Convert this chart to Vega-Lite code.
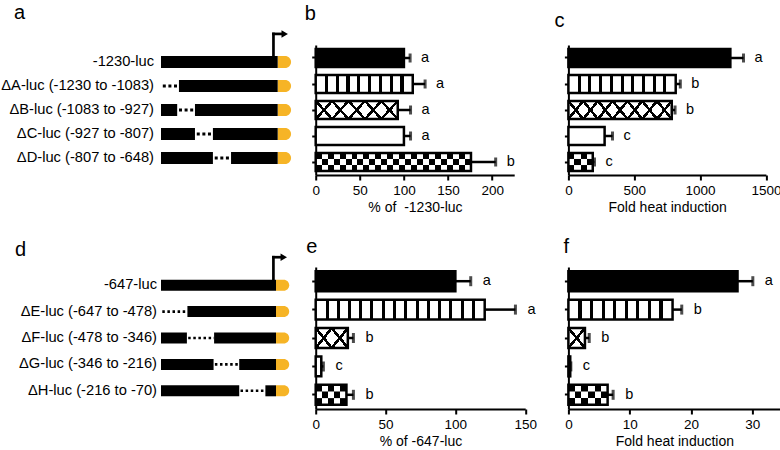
{
"$schema":"https://vega.github.io/schema/vega-lite/v6.json",
"padding":{"left":1,"top":3,"right":0,"bottom":0},
"background":"white",
"datasets":{
"bars":[
{"panel":"b","row":1,"construct":"-1230-luc","pattern":"solid","value":100,"upper":107,"letter":"a"},
{"panel":"b","row":2,"construct":"ΔA-luc","pattern":"stripes","value":110,"upper":124,"letter":"a"},
{"panel":"b","row":3,"construct":"ΔB-luc","pattern":"diamond","value":93,"upper":107.5,"letter":"a"},
{"panel":"b","row":4,"construct":"ΔC-luc","pattern":"white","value":100,"upper":107.5,"letter":"a"},
{"panel":"b","row":5,"construct":"ΔD-luc","pattern":"checker","value":176,"upper":204,"letter":"b"},
{"panel":"c","row":1,"construct":"-1230-luc","pattern":"solid","value":1230,"upper":1330,"letter":"a"},
{"panel":"c","row":2,"construct":"ΔA-luc","pattern":"stripes","value":815,"upper":850,"letter":"b"},
{"panel":"c","row":3,"construct":"ΔB-luc","pattern":"diamond","value":785,"upper":810,"letter":"b"},
{"panel":"c","row":4,"construct":"ΔC-luc","pattern":"white","value":275,"upper":335,"letter":"c"},
{"panel":"c","row":5,"construct":"ΔD-luc","pattern":"checker","value":185,"upper":198,"letter":"c"},
{"panel":"e","row":1,"construct":"-647-luc","pattern":"solid","value":100,"upper":111,"letter":"a"},
{"panel":"e","row":2,"construct":"ΔE-luc","pattern":"stripes","value":121,"upper":143,"letter":"a"},
{"panel":"e","row":3,"construct":"ΔF-luc","pattern":"diamond","value":23,"upper":27,"letter":"b"},
{"panel":"e","row":4,"construct":"ΔG-luc","pattern":"white","value":4,"upper":5.5,"letter":"c"},
{"panel":"e","row":5,"construct":"ΔH-luc","pattern":"checker","value":22,"upper":27,"letter":"b"},
{"panel":"f","row":1,"construct":"-647-luc","pattern":"solid","value":27.6,"upper":30.1,"letter":"a"},
{"panel":"f","row":2,"construct":"ΔE-luc","pattern":"stripes","value":17,"upper":18.5,"letter":"b"},
{"panel":"f","row":3,"construct":"ΔF-luc","pattern":"diamond","value":2.7,"upper":3.4,"letter":"b"},
{"panel":"f","row":4,"construct":"ΔG-luc","pattern":"white","value":0.3,"upper":0.4,"letter":"c"},
{"panel":"f","row":5,"construct":"ΔH-luc","pattern":"checker","value":6.4,"upper":7.3,"letter":"b"}
],
"schem":[
{"panel":"a","row":1,"label":"-1230-luc","kind":"solid","start":0,"end":6.63},
{"panel":"a","row":1,"label":"-1230-luc","kind":"luc","start":6.63,"end":7.39},
{"panel":"a","row":2,"label":"ΔA-luc (-1230 to -1083)","kind":"gap","start":0,"end":1.02},
{"panel":"a","row":2,"label":"ΔA-luc (-1230 to -1083)","kind":"solid","start":1.02,"end":6.63},
{"panel":"a","row":2,"label":"ΔA-luc (-1230 to -1083)","kind":"luc","start":6.63,"end":7.39},
{"panel":"a","row":3,"label":"ΔB-luc (-1083 to -927)","kind":"solid","start":0,"end":0.92},
{"panel":"a","row":3,"label":"ΔB-luc (-1083 to -927)","kind":"gap","start":0.92,"end":1.93},
{"panel":"a","row":3,"label":"ΔB-luc (-1083 to -927)","kind":"solid","start":1.93,"end":6.63},
{"panel":"a","row":3,"label":"ΔB-luc (-1083 to -927)","kind":"luc","start":6.63,"end":7.39},
{"panel":"a","row":4,"label":"ΔC-luc (-927 to -807)","kind":"solid","start":0,"end":1.93},
{"panel":"a","row":4,"label":"ΔC-luc (-927 to -807)","kind":"gap","start":1.93,"end":2.95},
{"panel":"a","row":4,"label":"ΔC-luc (-927 to -807)","kind":"solid","start":2.95,"end":6.63},
{"panel":"a","row":4,"label":"ΔC-luc (-927 to -807)","kind":"luc","start":6.63,"end":7.39},
{"panel":"a","row":5,"label":"ΔD-luc (-807 to -648)","kind":"solid","start":0,"end":2.95},
{"panel":"a","row":5,"label":"ΔD-luc (-807 to -648)","kind":"gap","start":2.95,"end":3.98},
{"panel":"a","row":5,"label":"ΔD-luc (-807 to -648)","kind":"solid","start":3.98,"end":6.63},
{"panel":"a","row":5,"label":"ΔD-luc (-807 to -648)","kind":"luc","start":6.63,"end":7.39},
{"panel":"d","row":1,"label":"-647-luc","kind":"solid","start":0,"end":4.44},
{"panel":"d","row":1,"label":"-647-luc","kind":"luc","start":4.44,"end":4.95},
{"panel":"d","row":2,"label":"ΔE-luc (-647 to -478)","kind":"gap","start":0,"end":1.02},
{"panel":"d","row":2,"label":"ΔE-luc (-647 to -478)","kind":"solid","start":1.02,"end":4.44},
{"panel":"d","row":2,"label":"ΔE-luc (-647 to -478)","kind":"luc","start":4.44,"end":4.95},
{"panel":"d","row":3,"label":"ΔF-luc (-478 to -346)","kind":"solid","start":0,"end":1.0},
{"panel":"d","row":3,"label":"ΔF-luc (-478 to -346)","kind":"gap","start":1.0,"end":2.05},
{"panel":"d","row":3,"label":"ΔF-luc (-478 to -346)","kind":"solid","start":2.05,"end":4.44},
{"panel":"d","row":3,"label":"ΔF-luc (-478 to -346)","kind":"luc","start":4.44,"end":4.95},
{"panel":"d","row":4,"label":"ΔG-luc (-346 to -216)","kind":"solid","start":0,"end":2.03},
{"panel":"d","row":4,"label":"ΔG-luc (-346 to -216)","kind":"gap","start":2.03,"end":3.02},
{"panel":"d","row":4,"label":"ΔG-luc (-346 to -216)","kind":"solid","start":3.02,"end":4.44},
{"panel":"d","row":4,"label":"ΔG-luc (-346 to -216)","kind":"luc","start":4.44,"end":4.95},
{"panel":"d","row":5,"label":"ΔH-luc (-216 to -70)","kind":"solid","start":0,"end":3.02},
{"panel":"d","row":5,"label":"ΔH-luc (-216 to -70)","kind":"gap","start":3.02,"end":4.03},
{"panel":"d","row":5,"label":"ΔH-luc (-216 to -70)","kind":"solid","start":4.03,"end":4.44},
{"panel":"d","row":5,"label":"ΔH-luc (-216 to -70)","kind":"luc","start":4.44,"end":4.95}
],
"tss":[
{"panel":"a","row":1,"x":6.39,"top":-0.17,"xend":6.9,"xhead":7.03},
{"panel":"d","row":1,"x":4.34,"top":-0.06,"xend":4.66,"xhead":4.74}
]
},
"concat":[
{
"width":112,"height":130,
"title":{"text":"a","dx":-147,"offset":7},
"layer":[
{"data":{"name":"schem"},"transform":[{"filter":"datum.panel==='a' && datum.kind==='gap'"}],
 "mark":{"type":"rule","color":"black","strokeWidth":3,"strokeDash":[3,2.6],"strokeDashOffset":-1.8},
 "encoding":{"x":{"field":"start","type":"quantitative","scale":{"domain":[0,6.364],"nice":false,"zero":false},"axis":null},"x2":{"field":"end"},"y":{"field":"row","type":"quantitative","scale":{"domain":[0.5,5.5],"reverse":true,"nice":false,"zero":false},"axis":null}}},
{"data":{"name":"schem"},"transform":[{"filter":"datum.panel==='a' && datum.kind==='luc'"}],
 "mark":{"type":"bar","orient":"horizontal","height":12,"color":"#F6B426","cornerRadiusTopRight":6,"cornerRadiusBottomRight":6},
 "encoding":{"x":{"field":"start","type":"quantitative","axis":null},"x2":{"field":"end"},"y":{"field":"row","type":"quantitative","axis":null}}},
{"data":{"name":"schem"},"transform":[{"filter":"datum.panel==='a' && datum.kind==='solid'"}],
 "mark":{"type":"bar","orient":"horizontal","height":12,"color":"black"},
 "encoding":{"x":{"field":"start","type":"quantitative","axis":null},"x2":{"field":"end"},"y":{"field":"row","type":"quantitative","axis":null}}},
{"data":{"name":"tss"},"transform":[{"filter":"datum.panel==='a'"}],
 "mark":{"type":"rule","color":"black","strokeWidth":2.7,"strokeCap":"square"},
 "encoding":{"x":{"field":"x","type":"quantitative","axis":null},"y":{"field":"row","type":"quantitative","axis":null},"y2":{"field":"top"}}},
{"data":{"name":"tss"},"transform":[{"filter":"datum.panel==='a'"}],
 "mark":{"type":"rule","color":"black","strokeWidth":2.7,"strokeCap":"square"},
 "encoding":{"x":{"field":"x","type":"quantitative","axis":null},"x2":{"field":"xend"},"y":{"field":"top","type":"quantitative","axis":null}}},
{"data":{"name":"tss"},"transform":[{"filter":"datum.panel==='a'"}],
 "mark":{"type":"point","shape":"triangle-right","filled":true,"size":55,"color":"black","opacity":1},
 "encoding":{"x":{"field":"xhead","type":"quantitative","axis":null},"y":{"field":"top","type":"quantitative","axis":null}}},
{"data":{"name":"schem"},"transform":[{"filter":"datum.panel==='a' && datum.start===0"}],
 "mark":{"type":"text","align":"right","baseline":"middle","dx":-7,"fontSize":14.7},
 "encoding":{"x":{"field":"start","type":"quantitative","axis":null},"y":{"field":"row","type":"quantitative","axis":null},"text":{"field":"label"}}}
]
},
{
"width":198.5,"height":130,
"title":{"text":"b","dx":-11,"offset":20.7},
"data":{"name":"bars"},
"transform":[{"filter":"datum.panel==='b'"}],
"encoding":{"y":{"field":"row","type":"ordinal","scale":{"paddingInner":0.3,"paddingOuter":0.15},"axis":{"labels":false,"title":null}}},
"layer":[
{"mark":{"type":"bar"},"encoding":{"x":{"field":"value","type":"quantitative","title":"% of \u00a0-1230-luc","scale":{"domain":[0,225],"nice":false},"axis":{"values":[0,50,100,150,200],"format":"d"}},"fill":{"field":"pattern","type":"nominal","scale":{"domain":["solid","stripes","diamond","white","checker"],"range":["black","white","white","white","white"]},"legend":null}}},
{"transform":[{"filter":"datum.pattern==='stripes'"}],"mark":{"type":"bar","fill":{"gradient":"linear","x1":0,"y1":0,"x2":1,"y2":0,"stops":[
{"offset":0,"color":"white"},
{"offset":0.095,"color":"white"},{"offset":0.095,"color":"black"},{"offset":0.127,"color":"black"},{"offset":0.127,"color":"white"},
{"offset":0.206,"color":"white"},{"offset":0.206,"color":"black"},{"offset":0.238,"color":"black"},{"offset":0.238,"color":"white"},
{"offset":0.317,"color":"white"},{"offset":0.317,"color":"black"},{"offset":0.349,"color":"black"},{"offset":0.349,"color":"white"},
{"offset":0.428,"color":"white"},{"offset":0.428,"color":"black"},{"offset":0.46,"color":"black"},{"offset":0.46,"color":"white"},
{"offset":0.54,"color":"white"},{"offset":0.54,"color":"black"},{"offset":0.572,"color":"black"},{"offset":0.572,"color":"white"},
{"offset":0.651,"color":"white"},{"offset":0.651,"color":"black"},{"offset":0.683,"color":"black"},{"offset":0.683,"color":"white"},
{"offset":0.762,"color":"white"},{"offset":0.762,"color":"black"},{"offset":0.794,"color":"black"},{"offset":0.794,"color":"white"},
{"offset":0.873,"color":"white"},{"offset":0.873,"color":"black"},{"offset":0.905,"color":"black"},{"offset":0.905,"color":"white"},
{"offset":1,"color":"white"}]}},"encoding":{"x":{"field":"value","type":"quantitative","title":"% of \u00a0-1230-luc"}}},
{"transform":[{"filter":"datum.pattern==='diamond'"}],"mark":{"type":"bar","fill":{"gradient":"linear","x1":0,"y1":1,"x2":1.154,"y2":0.769,"stops":[
{"offset":0,"color":"rgba(0,0,0,0)"},
{"offset":0.15,"color":"rgba(0,0,0,0)"},{"offset":0.15,"color":"black"},{"offset":0.184,"color":"black"},{"offset":0.184,"color":"rgba(0,0,0,0)"},
{"offset":0.316,"color":"rgba(0,0,0,0)"},{"offset":0.316,"color":"black"},{"offset":0.35,"color":"black"},{"offset":0.35,"color":"rgba(0,0,0,0)"},
{"offset":0.483,"color":"rgba(0,0,0,0)"},{"offset":0.483,"color":"black"},{"offset":0.517,"color":"black"},{"offset":0.517,"color":"rgba(0,0,0,0)"},
{"offset":0.65,"color":"rgba(0,0,0,0)"},{"offset":0.65,"color":"black"},{"offset":0.684,"color":"black"},{"offset":0.684,"color":"rgba(0,0,0,0)"},
{"offset":0.816,"color":"rgba(0,0,0,0)"},{"offset":0.816,"color":"black"},{"offset":0.85,"color":"black"},{"offset":0.85,"color":"rgba(0,0,0,0)"},
{"offset":1,"color":"rgba(0,0,0,0)"}]}},"encoding":{"x":{"field":"value","type":"quantitative","title":"% of \u00a0-1230-luc"}}},
{"transform":[{"filter":"datum.pattern==='diamond'"}],"mark":{"type":"bar","fill":{"gradient":"linear","x1":0,"y1":0,"x2":1.154,"y2":0.231,"stops":[
{"offset":0,"color":"rgba(0,0,0,0)"},
{"offset":0.15,"color":"rgba(0,0,0,0)"},{"offset":0.15,"color":"black"},{"offset":0.184,"color":"black"},{"offset":0.184,"color":"rgba(0,0,0,0)"},
{"offset":0.316,"color":"rgba(0,0,0,0)"},{"offset":0.316,"color":"black"},{"offset":0.35,"color":"black"},{"offset":0.35,"color":"rgba(0,0,0,0)"},
{"offset":0.483,"color":"rgba(0,0,0,0)"},{"offset":0.483,"color":"black"},{"offset":0.517,"color":"black"},{"offset":0.517,"color":"rgba(0,0,0,0)"},
{"offset":0.65,"color":"rgba(0,0,0,0)"},{"offset":0.65,"color":"black"},{"offset":0.684,"color":"black"},{"offset":0.684,"color":"rgba(0,0,0,0)"},
{"offset":0.816,"color":"rgba(0,0,0,0)"},{"offset":0.816,"color":"black"},{"offset":0.85,"color":"black"},{"offset":0.85,"color":"rgba(0,0,0,0)"},
{"offset":1,"color":"rgba(0,0,0,0)"}]}},"encoding":{"x":{"field":"value","type":"quantitative","title":"% of \u00a0-1230-luc"}}},
{"transform":[{"filter":"datum.pattern==='checker'"}],"mark":{"type":"bar","fill":{"gradient":"linear","x1":0,"y1":0,"x2":1,"y2":0,"stops":[
{"offset":0,"color":"black"},{"offset":0.0385,"color":"black"},{"offset":0.0385,"color":"white"},{"offset":0.0769,"color":"white"},{"offset":0.0769,"color":"black"},{"offset":0.1154,"color":"black"},{"offset":0.1154,"color":"white"},{"offset":0.1538,"color":"white"},{"offset":0.1538,"color":"black"},{"offset":0.1923,"color":"black"},{"offset":0.1923,"color":"white"},{"offset":0.2308,"color":"white"},{"offset":0.2308,"color":"black"},{"offset":0.2692,"color":"black"},{"offset":0.2692,"color":"white"},{"offset":0.3077,"color":"white"},{"offset":0.3077,"color":"black"},{"offset":0.3462,"color":"black"},{"offset":0.3462,"color":"white"},{"offset":0.3846,"color":"white"},{"offset":0.3846,"color":"black"},{"offset":0.4231,"color":"black"},{"offset":0.4231,"color":"white"},{"offset":0.4615,"color":"white"},{"offset":0.4615,"color":"black"},{"offset":0.5,"color":"black"},{"offset":0.5,"color":"white"},{"offset":0.5385,"color":"white"},{"offset":0.5385,"color":"black"},{"offset":0.5769,"color":"black"},{"offset":0.5769,"color":"white"},{"offset":0.6154,"color":"white"},{"offset":0.6154,"color":"black"},{"offset":0.6538,"color":"black"},{"offset":0.6538,"color":"white"},{"offset":0.6923,"color":"white"},{"offset":0.6923,"color":"black"},{"offset":0.7308,"color":"black"},{"offset":0.7308,"color":"white"},{"offset":0.7692,"color":"white"},{"offset":0.7692,"color":"black"},{"offset":0.8077,"color":"black"},{"offset":0.8077,"color":"white"},{"offset":0.8462,"color":"white"},{"offset":0.8462,"color":"black"},{"offset":0.8846,"color":"black"},{"offset":0.8846,"color":"white"},{"offset":0.9231,"color":"white"},{"offset":0.9231,"color":"black"},{"offset":0.9615,"color":"black"},{"offset":0.9615,"color":"white"},{"offset":1,"color":"white"}]}},"encoding":{"x":{"field":"value","type":"quantitative","title":"% of \u00a0-1230-luc"}}},
{"transform":[{"filter":"datum.pattern==='checker'"}],"mark":{"type":"bar","height":{"band":0.3333},"fill":{"gradient":"linear","x1":0,"y1":0,"x2":1,"y2":0,"stops":[
{"offset":0,"color":"white"},{"offset":0.0385,"color":"white"},{"offset":0.0385,"color":"black"},{"offset":0.0769,"color":"black"},{"offset":0.0769,"color":"white"},{"offset":0.1154,"color":"white"},{"offset":0.1154,"color":"black"},{"offset":0.1538,"color":"black"},{"offset":0.1538,"color":"white"},{"offset":0.1923,"color":"white"},{"offset":0.1923,"color":"black"},{"offset":0.2308,"color":"black"},{"offset":0.2308,"color":"white"},{"offset":0.2692,"color":"white"},{"offset":0.2692,"color":"black"},{"offset":0.3077,"color":"black"},{"offset":0.3077,"color":"white"},{"offset":0.3462,"color":"white"},{"offset":0.3462,"color":"black"},{"offset":0.3846,"color":"black"},{"offset":0.3846,"color":"white"},{"offset":0.4231,"color":"white"},{"offset":0.4231,"color":"black"},{"offset":0.4615,"color":"black"},{"offset":0.4615,"color":"white"},{"offset":0.5,"color":"white"},{"offset":0.5,"color":"black"},{"offset":0.5385,"color":"black"},{"offset":0.5385,"color":"white"},{"offset":0.5769,"color":"white"},{"offset":0.5769,"color":"black"},{"offset":0.6154,"color":"black"},{"offset":0.6154,"color":"white"},{"offset":0.6538,"color":"white"},{"offset":0.6538,"color":"black"},{"offset":0.6923,"color":"black"},{"offset":0.6923,"color":"white"},{"offset":0.7308,"color":"white"},{"offset":0.7308,"color":"black"},{"offset":0.7692,"color":"black"},{"offset":0.7692,"color":"white"},{"offset":0.8077,"color":"white"},{"offset":0.8077,"color":"black"},{"offset":0.8462,"color":"black"},{"offset":0.8462,"color":"white"},{"offset":0.8846,"color":"white"},{"offset":0.8846,"color":"black"},{"offset":0.9231,"color":"black"},{"offset":0.9231,"color":"white"},{"offset":0.9615,"color":"white"},{"offset":0.9615,"color":"black"},{"offset":1,"color":"black"}]}},"encoding":{"x":{"field":"value","type":"quantitative","title":"% of \u00a0-1230-luc"}}},
{"mark":{"type":"bar","fill":"transparent","stroke":"black","strokeWidth":2.5},"encoding":{"x":{"field":"value","type":"quantitative","title":"% of \u00a0-1230-luc"}}},
{"mark":{"type":"rule","color":"black","strokeWidth":2.5},"encoding":{"x":{"field":"value","type":"quantitative","title":"% of \u00a0-1230-luc"},"x2":{"field":"upper"}}},
{"mark":{"type":"tick","color":"black","thickness":3,"size":9},"encoding":{"x":{"field":"upper","type":"quantitative","title":"% of \u00a0-1230-luc"}}},
{"mark":{"type":"text","align":"left","baseline":"middle","dx":11,"fontSize":14.5},"encoding":{"x":{"field":"upper","type":"quantitative","title":"% of \u00a0-1230-luc"},"text":{"field":"letter"}}}
]
},
{
"width":197.5,"height":130,
"title":{"text":"c","dx":-14,"offset":14},
"data":{"name":"bars"},
"transform":[{"filter":"datum.panel==='c'"}],
"encoding":{"y":{"field":"row","type":"ordinal","scale":{"paddingInner":0.3,"paddingOuter":0.15},"axis":{"labels":false,"title":null}}},
"layer":[
{"mark":{"type":"bar"},"encoding":{"x":{"field":"value","type":"quantitative","title":"Fold heat induction","scale":{"domain":[0,1500],"nice":false},"axis":{"values":[0,500,1000,1500],"format":"d"}},"fill":{"field":"pattern","type":"nominal","scale":{"domain":["solid","stripes","diamond","white","checker"],"range":["black","white","white","white","white"]},"legend":null}}},
{"transform":[{"filter":"datum.pattern==='stripes'"}],"mark":{"type":"bar","fill":{"gradient":"linear","x1":0,"y1":0,"x2":1,"y2":0,"stops":[
{"offset":0,"color":"white"},
{"offset":0.086,"color":"white"},{"offset":0.086,"color":"black"},{"offset":0.114,"color":"black"},{"offset":0.114,"color":"white"},
{"offset":0.186,"color":"white"},{"offset":0.186,"color":"black"},{"offset":0.214,"color":"black"},{"offset":0.214,"color":"white"},
{"offset":0.286,"color":"white"},{"offset":0.286,"color":"black"},{"offset":0.314,"color":"black"},{"offset":0.314,"color":"white"},
{"offset":0.386,"color":"white"},{"offset":0.386,"color":"black"},{"offset":0.414,"color":"black"},{"offset":0.414,"color":"white"},
{"offset":0.486,"color":"white"},{"offset":0.486,"color":"black"},{"offset":0.514,"color":"black"},{"offset":0.514,"color":"white"},
{"offset":0.586,"color":"white"},{"offset":0.586,"color":"black"},{"offset":0.614,"color":"black"},{"offset":0.614,"color":"white"},
{"offset":0.686,"color":"white"},{"offset":0.686,"color":"black"},{"offset":0.714,"color":"black"},{"offset":0.714,"color":"white"},
{"offset":0.786,"color":"white"},{"offset":0.786,"color":"black"},{"offset":0.814,"color":"black"},{"offset":0.814,"color":"white"},
{"offset":0.886,"color":"white"},{"offset":0.886,"color":"black"},{"offset":0.914,"color":"black"},{"offset":0.914,"color":"white"},
{"offset":1,"color":"white"}]}},"encoding":{"x":{"field":"value","type":"quantitative","title":"Fold heat induction"}}},
{"transform":[{"filter":"datum.pattern==='diamond'"}],"mark":{"type":"bar","fill":{"gradient":"linear","x1":0,"y1":1,"x2":1.12,"y2":0.84,"stops":[
{"offset":0,"color":"rgba(0,0,0,0)"},
{"offset":0.111,"color":"rgba(0,0,0,0)"},{"offset":0.111,"color":"black"},{"offset":0.139,"color":"black"},{"offset":0.139,"color":"rgba(0,0,0,0)"},
{"offset":0.236,"color":"rgba(0,0,0,0)"},{"offset":0.236,"color":"black"},{"offset":0.264,"color":"black"},{"offset":0.264,"color":"rgba(0,0,0,0)"},
{"offset":0.361,"color":"rgba(0,0,0,0)"},{"offset":0.361,"color":"black"},{"offset":0.389,"color":"black"},{"offset":0.389,"color":"rgba(0,0,0,0)"},
{"offset":0.486,"color":"rgba(0,0,0,0)"},{"offset":0.486,"color":"black"},{"offset":0.514,"color":"black"},{"offset":0.514,"color":"rgba(0,0,0,0)"},
{"offset":0.611,"color":"rgba(0,0,0,0)"},{"offset":0.611,"color":"black"},{"offset":0.639,"color":"black"},{"offset":0.639,"color":"rgba(0,0,0,0)"},
{"offset":0.736,"color":"rgba(0,0,0,0)"},{"offset":0.736,"color":"black"},{"offset":0.764,"color":"black"},{"offset":0.764,"color":"rgba(0,0,0,0)"},
{"offset":0.861,"color":"rgba(0,0,0,0)"},{"offset":0.861,"color":"black"},{"offset":0.889,"color":"black"},{"offset":0.889,"color":"rgba(0,0,0,0)"},
{"offset":1,"color":"rgba(0,0,0,0)"}]}},"encoding":{"x":{"field":"value","type":"quantitative","title":"Fold heat induction"}}},
{"transform":[{"filter":"datum.pattern==='diamond'"}],"mark":{"type":"bar","fill":{"gradient":"linear","x1":0,"y1":0,"x2":1.12,"y2":0.16,"stops":[
{"offset":0,"color":"rgba(0,0,0,0)"},
{"offset":0.111,"color":"rgba(0,0,0,0)"},{"offset":0.111,"color":"black"},{"offset":0.139,"color":"black"},{"offset":0.139,"color":"rgba(0,0,0,0)"},
{"offset":0.236,"color":"rgba(0,0,0,0)"},{"offset":0.236,"color":"black"},{"offset":0.264,"color":"black"},{"offset":0.264,"color":"rgba(0,0,0,0)"},
{"offset":0.361,"color":"rgba(0,0,0,0)"},{"offset":0.361,"color":"black"},{"offset":0.389,"color":"black"},{"offset":0.389,"color":"rgba(0,0,0,0)"},
{"offset":0.486,"color":"rgba(0,0,0,0)"},{"offset":0.486,"color":"black"},{"offset":0.514,"color":"black"},{"offset":0.514,"color":"rgba(0,0,0,0)"},
{"offset":0.611,"color":"rgba(0,0,0,0)"},{"offset":0.611,"color":"black"},{"offset":0.639,"color":"black"},{"offset":0.639,"color":"rgba(0,0,0,0)"},
{"offset":0.736,"color":"rgba(0,0,0,0)"},{"offset":0.736,"color":"black"},{"offset":0.764,"color":"black"},{"offset":0.764,"color":"rgba(0,0,0,0)"},
{"offset":0.861,"color":"rgba(0,0,0,0)"},{"offset":0.861,"color":"black"},{"offset":0.889,"color":"black"},{"offset":0.889,"color":"rgba(0,0,0,0)"},
{"offset":1,"color":"rgba(0,0,0,0)"}]}},"encoding":{"x":{"field":"value","type":"quantitative","title":"Fold heat induction"}}},
{"transform":[{"filter":"datum.pattern==='checker'"}],"mark":{"type":"bar","fill":{"gradient":"linear","x1":0,"y1":0,"x2":1,"y2":0,"stops":[
{"offset":0,"color":"black"},{"offset":0.25,"color":"black"},{"offset":0.25,"color":"white"},{"offset":0.5,"color":"white"},{"offset":0.5,"color":"black"},{"offset":0.75,"color":"black"},{"offset":0.75,"color":"white"},{"offset":1,"color":"white"}]}},"encoding":{"x":{"field":"value","type":"quantitative","title":"Fold heat induction"}}},
{"transform":[{"filter":"datum.pattern==='checker'"}],"mark":{"type":"bar","height":{"band":0.3333},"fill":{"gradient":"linear","x1":0,"y1":0,"x2":1,"y2":0,"stops":[
{"offset":0,"color":"white"},{"offset":0.25,"color":"white"},{"offset":0.25,"color":"black"},{"offset":0.5,"color":"black"},{"offset":0.5,"color":"white"},{"offset":0.75,"color":"white"},{"offset":0.75,"color":"black"},{"offset":1,"color":"black"}]}},"encoding":{"x":{"field":"value","type":"quantitative","title":"Fold heat induction"}}},
{"mark":{"type":"bar","fill":"transparent","stroke":"black","strokeWidth":2.5},"encoding":{"x":{"field":"value","type":"quantitative","title":"Fold heat induction"}}},
{"mark":{"type":"rule","color":"black","strokeWidth":2.5},"encoding":{"x":{"field":"value","type":"quantitative","title":"Fold heat induction"},"x2":{"field":"upper"}}},
{"mark":{"type":"tick","color":"black","thickness":3,"size":9},"encoding":{"x":{"field":"upper","type":"quantitative","title":"Fold heat induction"}}},
{"mark":{"type":"text","align":"left","baseline":"middle","dx":11,"fontSize":14.5},"encoding":{"x":{"field":"upper","type":"quantitative","title":"Fold heat induction"},"text":{"field":"letter"}}}
]
},
{
"width":112,"height":142,
"title":{"text":"d","dx":-146,"offset":-6},
"layer":[
{"data":{"name":"schem"},"transform":[{"filter":"datum.panel==='d' && datum.kind==='gap'"}],
 "mark":{"type":"rule","color":"black","strokeWidth":2.6,"strokeDash":[2.5,2.6],"strokeDashOffset":-1.3},
 "encoding":{"x":{"field":"start","type":"quantitative","scale":{"domain":[0,4.324],"nice":false,"zero":false},"axis":null},"x2":{"field":"end"},"y":{"field":"row","type":"quantitative","scale":{"domain":[0.5,5.5],"reverse":true,"nice":false,"zero":false},"axis":null}}},
{"data":{"name":"schem"},"transform":[{"filter":"datum.panel==='d' && datum.kind==='luc'"}],
 "mark":{"type":"bar","orient":"horizontal","height":11,"color":"#F6B426","cornerRadiusTopRight":5.5,"cornerRadiusBottomRight":5.5},
 "encoding":{"x":{"field":"start","type":"quantitative","axis":null},"x2":{"field":"end"},"y":{"field":"row","type":"quantitative","axis":null}}},
{"data":{"name":"schem"},"transform":[{"filter":"datum.panel==='d' && datum.kind==='solid'"}],
 "mark":{"type":"bar","orient":"horizontal","height":11,"color":"black"},
 "encoding":{"x":{"field":"start","type":"quantitative","axis":null},"x2":{"field":"end"},"y":{"field":"row","type":"quantitative","axis":null}}},
{"data":{"name":"tss"},"transform":[{"filter":"datum.panel==='d'"}],
 "mark":{"type":"rule","color":"black","strokeWidth":2.7,"strokeCap":"square"},
 "encoding":{"x":{"field":"x","type":"quantitative","axis":null},"y":{"field":"row","type":"quantitative","axis":null},"y2":{"field":"top"}}},
{"data":{"name":"tss"},"transform":[{"filter":"datum.panel==='d'"}],
 "mark":{"type":"rule","color":"black","strokeWidth":2.7,"strokeCap":"square"},
 "encoding":{"x":{"field":"x","type":"quantitative","axis":null},"x2":{"field":"xend"},"y":{"field":"top","type":"quantitative","axis":null}}},
{"data":{"name":"tss"},"transform":[{"filter":"datum.panel==='d'"}],
 "mark":{"type":"point","shape":"triangle-right","filled":true,"size":55,"color":"black","opacity":1},
 "encoding":{"x":{"field":"xhead","type":"quantitative","axis":null},"y":{"field":"top","type":"quantitative","axis":null}}},
{"data":{"name":"schem"},"transform":[{"filter":"datum.panel==='d' && datum.start===0"}],
 "mark":{"type":"text","align":"right","baseline":"middle","dx":-4,"fontSize":14.7},
 "encoding":{"x":{"field":"start","type":"quantitative","axis":null},"y":{"field":"row","type":"quantitative","axis":null},"text":{"field":"label"}}}
]
},
{
"width":209.5,"height":142,
"title":{"text":"e","dx":-9.5,"offset":10},
"data":{"name":"bars"},
"transform":[{"filter":"datum.panel==='e'"}],
"encoding":{"y":{"field":"row","type":"ordinal","scale":{"paddingInner":0.3,"paddingOuter":0.15},"axis":{"labels":false,"title":null}}},
"layer":[
{"mark":{"type":"bar"},"encoding":{"x":{"field":"value","type":"quantitative","title":"% of -647-luc","scale":{"domain":[0,150],"nice":false},"axis":{"values":[0,50,100,150],"format":"d"}},"fill":{"field":"pattern","type":"nominal","scale":{"domain":["solid","stripes","diamond","white","checker"],"range":["black","white","white","white","white"]},"legend":null}}},
{"transform":[{"filter":"datum.pattern==='stripes'"}],"mark":{"type":"bar","fill":{"gradient":"linear","x1":0,"y1":0,"x2":1,"y2":0,"stops":[
{"offset":0,"color":"white"},
{"offset":0.058,"color":"white"},{"offset":0.058,"color":"black"},{"offset":0.076,"color":"black"},{"offset":0.076,"color":"white"},
{"offset":0.124,"color":"white"},{"offset":0.124,"color":"black"},{"offset":0.142,"color":"black"},{"offset":0.142,"color":"white"},
{"offset":0.191,"color":"white"},{"offset":0.191,"color":"black"},{"offset":0.209,"color":"black"},{"offset":0.209,"color":"white"},
{"offset":0.258,"color":"white"},{"offset":0.258,"color":"black"},{"offset":0.276,"color":"black"},{"offset":0.276,"color":"white"},
{"offset":0.324,"color":"white"},{"offset":0.324,"color":"black"},{"offset":0.342,"color":"black"},{"offset":0.342,"color":"white"},
{"offset":0.391,"color":"white"},{"offset":0.391,"color":"black"},{"offset":0.409,"color":"black"},{"offset":0.409,"color":"white"},
{"offset":0.458,"color":"white"},{"offset":0.458,"color":"black"},{"offset":0.476,"color":"black"},{"offset":0.476,"color":"white"},
{"offset":0.524,"color":"white"},{"offset":0.524,"color":"black"},{"offset":0.542,"color":"black"},{"offset":0.542,"color":"white"},
{"offset":0.591,"color":"white"},{"offset":0.591,"color":"black"},{"offset":0.609,"color":"black"},{"offset":0.609,"color":"white"},
{"offset":0.658,"color":"white"},{"offset":0.658,"color":"black"},{"offset":0.676,"color":"black"},{"offset":0.676,"color":"white"},
{"offset":0.724,"color":"white"},{"offset":0.724,"color":"black"},{"offset":0.742,"color":"black"},{"offset":0.742,"color":"white"},
{"offset":0.791,"color":"white"},{"offset":0.791,"color":"black"},{"offset":0.809,"color":"black"},{"offset":0.809,"color":"white"},
{"offset":0.858,"color":"white"},{"offset":0.858,"color":"black"},{"offset":0.876,"color":"black"},{"offset":0.876,"color":"white"},
{"offset":0.924,"color":"white"},{"offset":0.924,"color":"black"},{"offset":0.942,"color":"black"},{"offset":0.942,"color":"white"},
{"offset":1,"color":"white"}]}},"encoding":{"x":{"field":"value","type":"quantitative","title":"% of -647-luc"}}},
{"transform":[{"filter":"datum.pattern==='diamond'"}],"mark":{"type":"bar","fill":{"gradient":"linear","x1":0,"y1":1,"x2":1.2,"y2":0.4,"stops":[
{"offset":0,"color":"rgba(0,0,0,0)"},
{"offset":0.298,"color":"rgba(0,0,0,0)"},{"offset":0.298,"color":"black"},{"offset":0.368,"color":"black"},{"offset":0.368,"color":"rgba(0,0,0,0)"},
{"offset":0.632,"color":"rgba(0,0,0,0)"},{"offset":0.632,"color":"black"},{"offset":0.702,"color":"black"},{"offset":0.702,"color":"rgba(0,0,0,0)"},
{"offset":1,"color":"rgba(0,0,0,0)"}]}},"encoding":{"x":{"field":"value","type":"quantitative","title":"% of -647-luc"}}},
{"transform":[{"filter":"datum.pattern==='diamond'"}],"mark":{"type":"bar","fill":{"gradient":"linear","x1":0,"y1":0,"x2":1.2,"y2":0.6,"stops":[
{"offset":0,"color":"rgba(0,0,0,0)"},
{"offset":0.298,"color":"rgba(0,0,0,0)"},{"offset":0.298,"color":"black"},{"offset":0.368,"color":"black"},{"offset":0.368,"color":"rgba(0,0,0,0)"},
{"offset":0.632,"color":"rgba(0,0,0,0)"},{"offset":0.632,"color":"black"},{"offset":0.702,"color":"black"},{"offset":0.702,"color":"rgba(0,0,0,0)"},
{"offset":1,"color":"rgba(0,0,0,0)"}]}},"encoding":{"x":{"field":"value","type":"quantitative","title":"% of -647-luc"}}},
{"transform":[{"filter":"datum.pattern==='checker'"}],"mark":{"type":"bar","fill":{"gradient":"linear","x1":0,"y1":0,"x2":1,"y2":0,"stops":[
{"offset":0,"color":"black"},{"offset":0.2,"color":"black"},{"offset":0.2,"color":"white"},{"offset":0.4,"color":"white"},{"offset":0.4,"color":"black"},{"offset":0.6,"color":"black"},{"offset":0.6,"color":"white"},{"offset":0.8,"color":"white"},{"offset":0.8,"color":"black"},{"offset":1,"color":"black"}]}},"encoding":{"x":{"field":"value","type":"quantitative","title":"% of -647-luc"}}},
{"transform":[{"filter":"datum.pattern==='checker'"}],"mark":{"type":"bar","height":{"band":0.3333},"fill":{"gradient":"linear","x1":0,"y1":0,"x2":1,"y2":0,"stops":[
{"offset":0,"color":"white"},{"offset":0.2,"color":"white"},{"offset":0.2,"color":"black"},{"offset":0.4,"color":"black"},{"offset":0.4,"color":"white"},{"offset":0.6,"color":"white"},{"offset":0.6,"color":"black"},{"offset":0.8,"color":"black"},{"offset":0.8,"color":"white"},{"offset":1,"color":"white"}]}},"encoding":{"x":{"field":"value","type":"quantitative","title":"% of -647-luc"}}},
{"mark":{"type":"bar","fill":"transparent","stroke":"black","strokeWidth":2.5},"encoding":{"x":{"field":"value","type":"quantitative","title":"% of -647-luc"}}},
{"mark":{"type":"rule","color":"black","strokeWidth":2.5},"encoding":{"x":{"field":"value","type":"quantitative","title":"% of -647-luc"},"x2":{"field":"upper"}}},
{"mark":{"type":"tick","color":"black","thickness":3,"size":10},"encoding":{"x":{"field":"upper","type":"quantitative","title":"% of -647-luc"}}},
{"mark":{"type":"text","align":"left","baseline":"middle","dx":12,"fontSize":14.5},"encoding":{"x":{"field":"upper","type":"quantitative","title":"% of -647-luc"},"text":{"field":"letter"}}}
]
},
{
"width":212,"height":142,
"title":{"text":"f","dx":-5,"offset":10},
"data":{"name":"bars"},
"transform":[{"filter":"datum.panel==='f'"}],
"encoding":{"y":{"field":"row","type":"ordinal","scale":{"paddingInner":0.3,"paddingOuter":0.15},"axis":{"labels":false,"title":null}}},
"layer":[
{"mark":{"type":"bar"},"encoding":{"x":{"field":"value","type":"quantitative","title":"Fold heat induction","scale":{"domain":[0,34.6],"nice":false},"axis":{"values":[0,10,20,30],"format":"d"}},"fill":{"field":"pattern","type":"nominal","scale":{"domain":["solid","stripes","diamond","white","checker"],"range":["black","white","white","white","white"]},"legend":null}}},
{"transform":[{"filter":"datum.pattern==='stripes'"}],"mark":{"type":"bar","fill":{"gradient":"linear","x1":0,"y1":0,"x2":1,"y2":0,"stops":[
{"offset":0,"color":"white"},
{"offset":0.096,"color":"white"},{"offset":0.096,"color":"black"},{"offset":0.126,"color":"black"},{"offset":0.126,"color":"white"},
{"offset":0.207,"color":"white"},{"offset":0.207,"color":"black"},{"offset":0.237,"color":"black"},{"offset":0.237,"color":"white"},
{"offset":0.318,"color":"white"},{"offset":0.318,"color":"black"},{"offset":0.348,"color":"black"},{"offset":0.348,"color":"white"},
{"offset":0.429,"color":"white"},{"offset":0.429,"color":"black"},{"offset":0.459,"color":"black"},{"offset":0.459,"color":"white"},
{"offset":0.541,"color":"white"},{"offset":0.541,"color":"black"},{"offset":0.571,"color":"black"},{"offset":0.571,"color":"white"},
{"offset":0.652,"color":"white"},{"offset":0.652,"color":"black"},{"offset":0.682,"color":"black"},{"offset":0.682,"color":"white"},
{"offset":0.763,"color":"white"},{"offset":0.763,"color":"black"},{"offset":0.793,"color":"black"},{"offset":0.793,"color":"white"},
{"offset":0.874,"color":"white"},{"offset":0.874,"color":"black"},{"offset":0.904,"color":"black"},{"offset":0.904,"color":"white"},
{"offset":1,"color":"white"}]}},"encoding":{"x":{"field":"value","type":"quantitative","title":"Fold heat induction"}}},
{"transform":[{"filter":"datum.pattern==='diamond'"}],"mark":{"type":"bar","fill":{"gradient":"linear","x1":0,"y1":1,"x2":1,"y2":0,"stops":[
{"offset":0,"color":"rgba(0,0,0,0)"},{"offset":0.45,"color":"rgba(0,0,0,0)"},{"offset":0.45,"color":"black"},{"offset":0.55,"color":"black"},{"offset":0.55,"color":"rgba(0,0,0,0)"},{"offset":1,"color":"rgba(0,0,0,0)"}]}},"encoding":{"x":{"field":"value","type":"quantitative","title":"Fold heat induction"}}},
{"transform":[{"filter":"datum.pattern==='diamond'"}],"mark":{"type":"bar","fill":{"gradient":"linear","x1":0,"y1":0,"x2":1,"y2":1,"stops":[
{"offset":0,"color":"rgba(0,0,0,0)"},{"offset":0.45,"color":"rgba(0,0,0,0)"},{"offset":0.45,"color":"black"},{"offset":0.55,"color":"black"},{"offset":0.55,"color":"rgba(0,0,0,0)"},{"offset":1,"color":"rgba(0,0,0,0)"}]}},"encoding":{"x":{"field":"value","type":"quantitative","title":"Fold heat induction"}}},
{"transform":[{"filter":"datum.pattern==='checker'"}],"mark":{"type":"bar","fill":{"gradient":"linear","x1":0,"y1":0,"x2":1,"y2":0,"stops":[
{"offset":0,"color":"black"},{"offset":0.1667,"color":"black"},{"offset":0.1667,"color":"white"},{"offset":0.3333,"color":"white"},{"offset":0.3333,"color":"black"},{"offset":0.5,"color":"black"},{"offset":0.5,"color":"white"},{"offset":0.6667,"color":"white"},{"offset":0.6667,"color":"black"},{"offset":0.8333,"color":"black"},{"offset":0.8333,"color":"white"},{"offset":1,"color":"white"}]}},"encoding":{"x":{"field":"value","type":"quantitative","title":"Fold heat induction"}}},
{"transform":[{"filter":"datum.pattern==='checker'"}],"mark":{"type":"bar","height":{"band":0.3333},"fill":{"gradient":"linear","x1":0,"y1":0,"x2":1,"y2":0,"stops":[
{"offset":0,"color":"white"},{"offset":0.1667,"color":"white"},{"offset":0.1667,"color":"black"},{"offset":0.3333,"color":"black"},{"offset":0.3333,"color":"white"},{"offset":0.5,"color":"white"},{"offset":0.5,"color":"black"},{"offset":0.6667,"color":"black"},{"offset":0.6667,"color":"white"},{"offset":0.8333,"color":"white"},{"offset":0.8333,"color":"black"},{"offset":1,"color":"black"}]}},"encoding":{"x":{"field":"value","type":"quantitative","title":"Fold heat induction"}}},
{"mark":{"type":"bar","fill":"transparent","stroke":"black","strokeWidth":2.5},"encoding":{"x":{"field":"value","type":"quantitative","title":"Fold heat induction"}}},
{"mark":{"type":"rule","color":"black","strokeWidth":2.5},"encoding":{"x":{"field":"value","type":"quantitative","title":"Fold heat induction"},"x2":{"field":"upper"}}},
{"mark":{"type":"tick","color":"black","thickness":3,"size":10},"encoding":{"x":{"field":"upper","type":"quantitative","title":"Fold heat induction"}}},
{"mark":{"type":"text","align":"left","baseline":"middle","dx":12,"fontSize":14.5},"encoding":{"x":{"field":"upper","type":"quantitative","title":"Fold heat induction"},"text":{"field":"letter"}}}
]
}
],
"columns":3,
"bounds":"flush",
"align":"each",
"spacing":{"row":92,"column":42.7},
"config":{
"view":{"stroke":null},
"font":"Liberation Sans",
"title":{"font":"Liberation Sans","fontSize":20,"fontWeight":"normal","anchor":"start","frame":"group","baseline":"alphabetic","color":"black"},
"axis":{"domainColor":"black","domainWidth":2,"tickColor":"black","tickWidth":2,"labelColor":"black","titleColor":"black","labelFont":"Liberation Sans","titleFont":"Liberation Sans","labelFontSize":13.5,"titleFontSize":14,"titleFontWeight":"normal","grid":false,"labelFlush":false},
"axisX":{"tickSize":5,"labelPadding":3,"titlePadding":4},
"axisY":{"tickSize":4},
"text":{"font":"Liberation Sans","color":"black"}
}
}
